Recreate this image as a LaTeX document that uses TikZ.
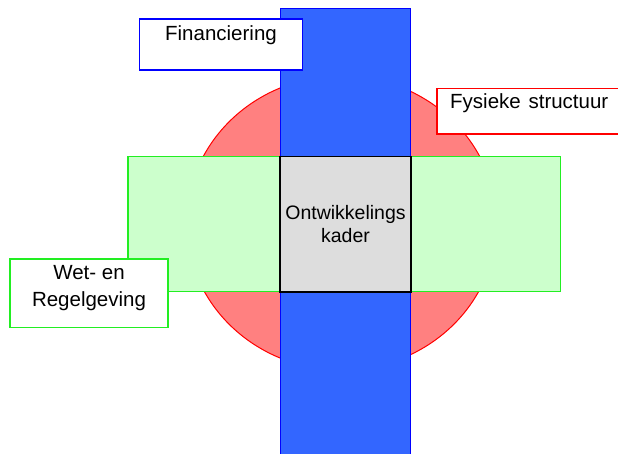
\documentclass[tikz,border=0pt]{standalone}
\usepackage{fontspec}
\setmainfont{Liberation Sans}
\definecolor{ellred}{HTML}{FF8080}
\definecolor{barblue}{HTML}{3366FF}
\definecolor{lightgreen}{HTML}{CCFFCC}
\definecolor{brightgreen}{HTML}{22EE22}
\definecolor{coregray}{HTML}{DDDDDD}
\begin{document}
\begin{tikzpicture}[x=1pt,y=-1pt,
  txt/.style={font=\fontsize{20.5}{24}\selectfont, inner sep=0pt, anchor=base},
  coretxt/.style={txt, font=\fontsize{19.5}{23}\selectfont},
  area/.style={inner sep=0pt, outer sep=0pt, anchor=north west},
  labelbox/.style={area, fill=white, line width=1.1pt}]
\useasboundingbox (0,0) rectangle (618,453);
% red ellipse (fysieke structuur)
\path[draw=red, fill=ellred, line width=1pt] (341.5,223) ellipse [x radius=155pt, y radius=147pt];
% blue bar (financiering)
\node[area, draw=blue, fill=barblue, line width=1pt, minimum width=130pt, minimum height=460pt] (bar) at (280,8) {};
% green band (wet- en regelgeving)
\node[area, draw=brightgreen, fill=lightgreen, line width=1.2pt, minimum width=432.5pt, minimum height=135pt] (band) at (128,156.5) {};
% gray core
\node[area, draw=black, fill=coregray, line width=1.2pt, minimum width=131pt, minimum height=135.5pt] (core) at (280,156.5) {};
\node[coretxt] (t1) at (345.5,219.3) {Ontwikkelings};
\node[coretxt] (t2) at (345.5,242.7) {kader};
% label boxes
\node[labelbox, draw=blue, minimum width=163pt, minimum height=51pt] (finbox) at (139.5,19) {};
\node[txt] (fin) at (221,40) {Financiering};
\node[labelbox, draw=red, minimum width=190pt, minimum height=45.5pt] (fysbox) at (437,88.5) {};
\node[txt, anchor=base west] (fys) at (450,108) {Fysieke\hspace{0.1em} structuur};
\node[labelbox, draw=brightgreen, line width=1.3pt, minimum width=158pt, minimum height=68.5pt] (wetbox) at (10,259) {};
\node[txt] (wet1) at (89,279.3) {Wet- en};
\node[txt] (wet2) at (89,306.5) {Regelgeving};
\end{tikzpicture}
\end{document}
